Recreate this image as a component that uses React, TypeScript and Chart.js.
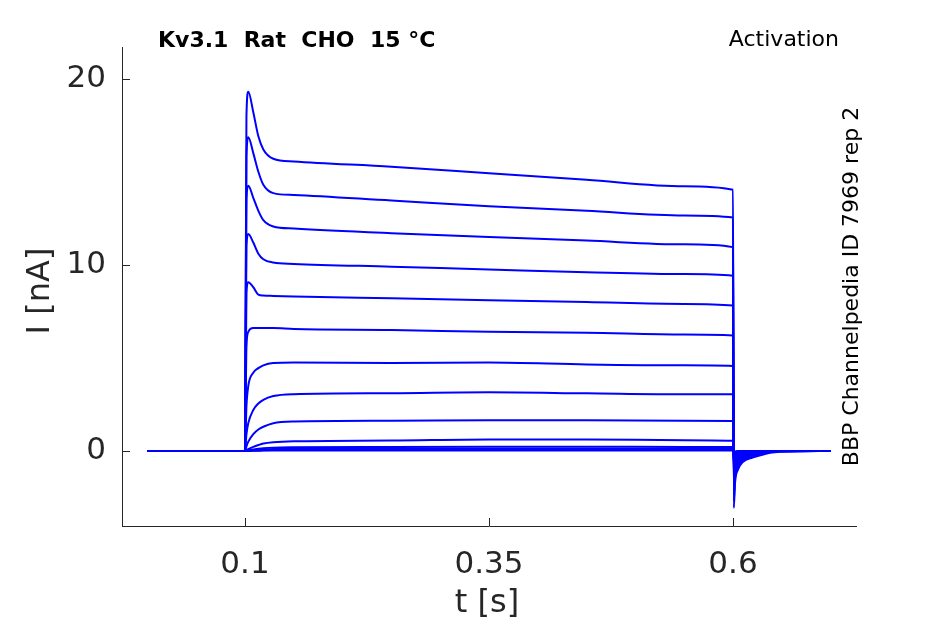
import React, { useEffect, useRef } from "react";
import { Chart, registerables } from "chart.js";

Chart.register(...registerables);

// time samples (s)
const times = [0, 0.1, 0.1015, 0.1034, 0.1085, 0.1137, 0.1188, 0.129, 0.15, 0.25, 0.35, 0.45, 0.55, 0.6, 0.6008, 0.602, 0.605, 0.61, 0.62, 0.63, 0.64, 0.7];

// current traces (nA), one per voltage step
const trace1 = [0, 0, 18.0, 19.3, 18.2, 16.9, 16.2, 15.7, 15.55, 15.27, 14.92, 14.57, 14.22, 14.03, -3.06, -1.75, -1.0, -0.6, -0.35, -0.2, -0.08, 0];
const trace2 = [0, 0, 15.8, 16.85, 16.0, 15.0, 14.3, 13.85, 13.75, 13.45, 13.15, 12.9, 12.65, 12.54, -2.7, -1.5, -0.85, -0.5, -0.28, -0.13, -0.04, 0];
const trace3 = [0, 0, 13.5, 14.25, 13.6, 12.9, 12.4, 12.06, 11.95, 11.7, 11.5, 11.3, 11.1, 10.95, -2.4, -1.3, -0.72, -0.42, -0.22, -0.08, -0.02, 0];
const trace4 = [0, 0, 11.0, 11.65, 11.2, 10.6, 10.3, 10.12, 10.05, 9.9, 9.75, 9.6, 9.5, 9.41, -2.1, -1.1, -0.6, -0.35, -0.16, -0.05, 0, 0];
const trace5 = [0, 0, 8.5, 9.07, 8.8, 8.4, 8.35, 8.33, 8.3, 8.2, 8.1, 8.0, 7.9, 7.81, -1.8, -0.95, -0.5, -0.28, -0.1, -0.02, 0, 0];
const trace6 = [0, 0, 5.6, 6.4, 6.6, 6.6, 6.6, 6.6, 6.55, 6.5, 6.4, 6.35, 6.25, 6.2, -1.5, -0.8, -0.42, -0.22, -0.06, 0, 0, 0];
const trace7 = [0, 0, 2.4, 3.5, 4.2, 4.45, 4.6, 4.72, 4.75, 4.72, 4.75, 4.65, 4.6, 4.57, -1.2, -0.65, -0.35, -0.16, -0.03, 0, 0, 0];
const trace8 = [0, 0, 0.9, 1.5, 2.2, 2.55, 2.75, 2.95, 3.05, 3.1, 3.15, 3.1, 3.05, 3.05, -0.95, -0.5, -0.28, -0.1, -0.01, 0, 0, 0];
const trace9 = [0, 0, 0.25, 0.5, 0.9, 1.15, 1.3, 1.49, 1.58, 1.62, 1.65, 1.65, 1.62, 1.61, -0.7, -0.4, -0.2, -0.05, 0, 0, 0, 0];
const trace10 = [0, 0, 0.04, 0.1, 0.22, 0.32, 0.4, 0.47, 0.52, 0.56, 0.62, 0.62, 0.58, 0.55, -0.5, -0.3, -0.12, -0.02, 0, 0, 0, 0];
const trace11 = [0, 0, 0.02, 0.04, 0.08, 0.12, 0.15, 0.18, 0.2, 0.22, 0.23, 0.23, 0.22, 0.22, -0.35, -0.2, -0.06, 0, 0, 0, 0, 0];
const trace12 = [0, 0, 0.01, 0.02, 0.04, 0.06, 0.08, 0.1, 0.11, 0.12, 0.12, 0.12, 0.12, 0.12, -0.25, -0.12, -0.03, 0, 0, 0, 0, 0];
const trace13 = [0, 0, 0, 0.01, 0.02, 0.03, 0.04, 0.05, 0.06, 0.06, 0.06, 0.06, 0.06, 0.06, -0.15, -0.07, -0.01, 0, 0, 0, 0, 0];
const trace14 = [0, 0, 0, 0, 0.01, 0.01, 0.02, 0.02, 0.02, 0.03, 0.03, 0.03, 0.03, 0.03, -0.08, -0.03, 0, 0, 0, 0, 0, 0];

const traces = [trace1, trace2, trace3, trace4, trace5, trace6, trace7, trace8, trace9, trace10, trace11, trace12, trace13, trace14];

const xTicks = [0.1, 0.35, 0.6];
const xTickLabels = ["0.1", "0.35", "0.6"];
const yTicks = [0, 10, 20];
const yTickLabels = ["0", "10", "20"];

const titleText = "Kv3.1  Rat  CHO  15 °C";
const protocolText = "Activation";
const sideText = "BBP Channelpedia ID 7969 rep 2";
const xLabel = "t [s]";
const yLabel = "I [nA]";

const FONT = "'DejaVu Sans', sans-serif";
const AXIS_COLOR = "#262626";

const decorPlugin = {
  id: "decor",
  afterDraw(chart: any) {
    const { ctx, chartArea, scales } = chart;
    const xs = scales.x;
    const ys = scales.y;
    ctx.save();
    // inward ticks
    ctx.strokeStyle = AXIS_COLOR;
    ctx.lineWidth = 1;
    ctx.beginPath();
    xTicks.forEach((v) => {
      const px = Math.round(xs.getPixelForValue(v)) + 0.5;
      ctx.moveTo(px, chartArea.bottom);
      ctx.lineTo(px, chartArea.bottom - 8);
    });
    yTicks.forEach((v) => {
      const py = Math.round(ys.getPixelForValue(v)) + 0.5;
      ctx.moveTo(chartArea.left, py);
      ctx.lineTo(chartArea.left + 8, py);
    });
    ctx.stroke();

    // title texts
    ctx.fillStyle = "#000000";
    ctx.textBaseline = "alphabetic";
    ctx.font = `bold 22px ${FONT}`;
    ctx.textAlign = "left";
    ctx.fillText(titleText, 158, 47);
    ctx.font = `22px ${FONT}`;
    ctx.textAlign = "right";
    ctx.fillText(protocolText, 839, 46);

    // side text
    ctx.save();
    ctx.translate(858, 286.5);
    ctx.rotate(-Math.PI / 2);
    ctx.font = `22px ${FONT}`;
    ctx.textAlign = "center";
    ctx.fillText(sideText, 0, 0);
    ctx.restore();

    // axis labels
    ctx.fillStyle = AXIS_COLOR;
    ctx.font = `32px ${FONT}`;
    ctx.textAlign = "center";
    ctx.fillText(xLabel, 487, 612);
    ctx.save();
    ctx.translate(49, 291);
    ctx.rotate(-Math.PI / 2);
    ctx.fillText(yLabel, 0, 0);
    ctx.restore();
    ctx.restore();
  },
};

export default function App() {
  const ref = useRef<HTMLCanvasElement | null>(null);
  useEffect(() => {
    document.body.style.margin = "0";
    const canvas = ref.current;
    if (!canvas) return;
    const datasets = traces.map((tr) => ({
      data: times.map((t, i) => ({ x: t, y: tr[i] })),
      borderColor: "rgb(0,0,255)",
      borderWidth: 2,
      pointRadius: 0,
      fill: false,
      cubicInterpolationMode: "monotone" as const,
    }));
    const chart = new Chart(canvas, {
      type: "line",
      data: { datasets },
      options: {
        animation: false,
        responsive: false,
        devicePixelRatio: 1,
        layout: { padding: { top: 47, right: 89, left: 0, bottom: 0 } },
        plugins: { legend: { display: false }, tooltip: { enabled: false }, title: { display: false } },
        scales: {
          x: {
            type: "linear",
            min: -0.026,
            max: 0.726,
            afterBuildTicks: (s: any) => {
              s.ticks = xTicks.map((v) => ({ value: v }));
            },
            afterFit: (s: any) => {
              s.height = 98;
            },
            grid: { display: true, drawOnChartArea: false, drawTicks: false },
            border: { display: true, color: AXIS_COLOR, width: 1 },
            ticks: {
              autoSkip: false,
              maxRotation: 0,
              padding: 20,
              color: AXIS_COLOR,
              font: { family: FONT, size: 31 },
              callback: (v: any) => {
                const i = xTicks.indexOf(Number(v));
                return i >= 0 ? xTickLabels[i] : "";
              },
            },
          },
          y: {
            type: "linear",
            min: -4.03,
            max: 21.7,
            afterBuildTicks: (s: any) => {
              s.ticks = yTicks.map((v) => ({ value: v }));
            },
            afterFit: (s: any) => {
              s.width = 122;
            },
            grid: { display: true, drawOnChartArea: false, drawTicks: false },
            border: { display: true, color: AXIS_COLOR, width: 1 },
            ticks: {
              autoSkip: false,
              padding: 16,
              color: AXIS_COLOR,
              font: { family: FONT, size: 31 },
              callback: (v: any) => {
                const i = yTicks.indexOf(Number(v));
                return i >= 0 ? yTickLabels[i] : "";
              },
            },
          },
        },
      },
      plugins: [decorPlugin],
    });
    return () => chart.destroy();
  }, []);
  return (
    <div style={{ width: 945, height: 624, position: "relative", background: "#fff" }}>
      <canvas ref={ref} width={945} height={624} style={{ display: "block", position: "absolute", left: 0, top: 0 }} />
    </div>
  );
}
